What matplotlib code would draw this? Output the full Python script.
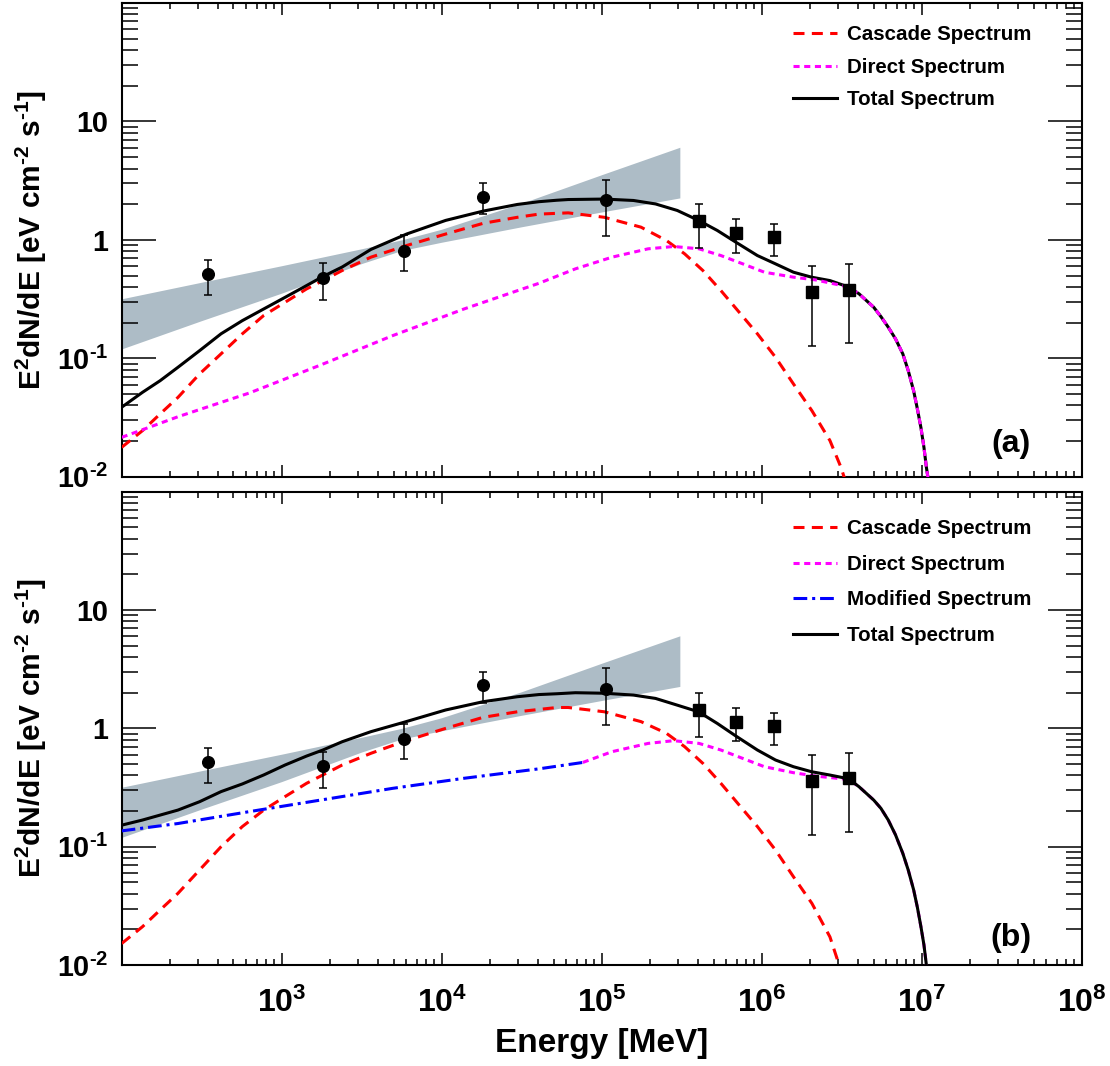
import math
import matplotlib
matplotlib.use("Agg")
import matplotlib.pyplot as plt
from matplotlib.ticker import LogLocator, FuncFormatter, NullFormatter

plt.rcParams["font.family"] = ["Liberation Sans", "DejaVu Sans"]
plt.rcParams["font.weight"] = "bold"
plt.rcParams["mathtext.fontset"] = "custom"
plt.rcParams["mathtext.rm"] = "Liberation Sans:bold"
plt.rcParams["mathtext.bf"] = "Liberation Sans:bold"
plt.rcParams["mathtext.it"] = "Liberation Sans:bold:italic"
plt.rcParams["mathtext.default"] = "bf"

HY = "\u2010"  # short hyphen for exponents, like the original

# measured points (circles: GeV data, squares: TeV data)
lat_E = [345, 1820, 5840, 18200, 106000]
lat_F = [0.516, 0.478, 0.812, 2.32, 2.15]
lat_hi = [0.677, 0.634, 1.09, 3.0, 3.23]
lat_lo = [0.345, 0.311, 0.55, 1.64, 1.07]

tev_E = [403000, 690000, 1.19e6, 2.05e6, 3.49e6]
tev_F = [1.44, 1.14, 1.05, 0.361, 0.377]
tev_hi = [2.0, 1.50, 1.36, 0.60, 0.62]
tev_lo = [0.85, 0.78, 0.73, 0.126, 0.134]

# butterfly band
band_E = [100, 316, 1000, 3160, 5620, 10000, 31600, 100000, 308000]
band_lo = [0.120, 0.208, 0.355, 0.631, 0.813, 0.955, 1.29, 1.72, 2.26]
band_hi = [0.318, 0.439, 0.605, 0.841, 1.0, 1.23, 2.04, 3.55, 6.05]

# panel (a) model curves
a_tot_E = [100, 135, 174, 225, 307, 418, 568, 773, 1050, 1430, 1810, 2390, 3610,
           6040, 10600, 18200, 29700, 40600, 52400, 61800, 104000, 158000, 217000,
           297000, 403000, 528000, 690000, 940000, 1.22e6, 1.58e6, 2.05e6, 2.67e6,
           3.49e6, 4.06e6, 5.01e6, 5.56e6, 6.18e6, 6.86e6, 7.62e6, 8.24e6, 8.91e6,
           9.40e6, 9.89e6, 1.033e7, 1.07e7, 1.12e7]
a_tot_F = [0.0386, 0.0516, 0.0647, 0.084, 0.116, 0.161, 0.208, 0.261, 0.327, 0.411,
           0.49, 0.59, 0.83, 1.12, 1.46, 1.75, 1.99, 2.10, 2.16, 2.19, 2.21, 2.15,
           2.01, 1.77, 1.46, 1.20, 0.955, 0.737, 0.627, 0.533, 0.484, 0.453, 0.40,
           0.350, 0.270, 0.225, 0.183, 0.146, 0.109, 0.0787, 0.053,
           0.0373, 0.026, 0.0177, 0.012, 0.008]

a_cas_E = [100, 135, 174, 225, 307, 418, 568, 773, 1050, 1430, 1810, 2390, 3610,
           6040, 10600, 18200, 29700, 40600, 61800, 104000, 176000, 254000, 330000,
           429000, 556000, 723000, 940000, 1.22e6, 1.58e6, 2.06e6, 2.67e6, 3.13e6, 3.40e6]
a_cas_F = [0.0177, 0.0245, 0.0339, 0.0468, 0.0738, 0.109, 0.161, 0.230, 0.297, 0.385,
           0.453, 0.551, 0.714, 0.896, 1.12, 1.38, 1.55, 1.65, 1.69, 1.55, 1.28, 0.987,
           0.762, 0.551, 0.373, 0.245, 0.161, 0.102, 0.0607, 0.0361, 0.0202, 0.0120, 0.0085]

a_dir_E = [100, 225, 630, 1760, 4920, 13700, 40600, 68500, 116000, 195000, 282000,
           406000, 556000, 762000, 1.04e6, 1.58e6, 2.17e6, 3.49e6, 4.06e6, 5.01e6,
           5.56e6, 6.18e6, 6.86e6, 7.62e6, 8.24e6, 8.91e6, 9.40e6, 9.89e6, 1.033e7,
           1.07e7, 1.12e7]
a_dir_F = [0.0215, 0.0321, 0.051, 0.088, 0.155, 0.26, 0.43, 0.569, 0.714, 0.840,
           0.879, 0.840, 0.737, 0.627, 0.533, 0.484, 0.459, 0.40, 0.350, 0.270,
           0.225, 0.183, 0.146, 0.109, 0.0787, 0.053, 0.0373, 0.026, 0.0177,
           0.012, 0.008]

# panel (b) model curves
b_tot_E = [100, 135, 174, 225, 307, 418, 568, 773, 1050, 1430, 1810, 2390, 3610,
           5740, 10600, 18200, 29700, 40600, 52400, 68500, 104000, 158000, 217000,
           297000, 403000, 528000, 690000, 940000, 1.22e6, 1.58e6, 2.05e6, 2.67e6,
           3.49e6, 4.06e6, 5.01e6, 5.56e6, 6.18e6, 6.86e6, 7.62e6, 8.24e6, 8.91e6,
           9.40e6, 9.89e6, 1.033e7, 1.07e7, 1.12e7]
b_tot_F = [0.152, 0.168, 0.185, 0.204, 0.240, 0.292, 0.339, 0.404, 0.490, 0.583,
           0.656, 0.771, 0.937, 1.12, 1.43, 1.68, 1.85, 1.93, 1.96, 2.0, 1.98, 1.91,
           1.79, 1.57, 1.38, 1.10, 0.861, 0.656, 0.540, 0.474, 0.430, 0.403, 0.375,
           0.321, 0.248, 0.211, 0.168, 0.126, 0.0879, 0.0635, 0.0431,
           0.0307, 0.0211, 0.0148, 0.010, 0.007]

b_cas_E = [100, 135, 174, 225, 307, 418, 568, 773, 1050, 1430, 1810, 2390, 3610,
           5740, 10600, 18200, 29700, 52400, 61800, 104000, 176000, 254000, 330000,
           429000, 556000, 723000, 940000, 1.22e6, 1.58e6, 2.06e6, 2.67e6, 3.05e6, 3.2e6]
b_cas_F = [0.0152, 0.0211, 0.0292, 0.0404, 0.0636, 0.1, 0.148, 0.204, 0.265, 0.343,
           0.404, 0.490, 0.615, 0.771, 1.0, 1.24, 1.38, 1.50, 1.50, 1.38, 1.14, 0.908,
           0.70, 0.506, 0.343, 0.225, 0.148, 0.0937, 0.0557, 0.0332, 0.0173, 0.010, 0.008]

b_mod_E = [100, 225, 630, 1760, 4920, 13700, 40600, 76200]
b_mod_F = [0.136, 0.157, 0.198, 0.248, 0.311, 0.378, 0.455, 0.515]

b_dir_E = [76200, 116000, 195000, 282000, 406000, 556000, 762000, 1.04e6, 1.58e6,
           2.17e6, 3.49e6, 4.06e6, 5.01e6, 5.56e6, 6.18e6, 6.86e6, 7.62e6, 8.24e6,
           8.91e6, 9.40e6, 9.89e6, 1.033e7, 1.07e7, 1.12e7]
b_dir_F = [0.515, 0.635, 0.746, 0.787, 0.746, 0.656, 0.557, 0.474, 0.422, 0.395, 0.37,
           0.321, 0.248, 0.211, 0.168, 0.126, 0.0879, 0.0635, 0.0431, 0.0307,
           0.0211, 0.0148, 0.010, 0.007]

x_tick_vals = [1e3, 1e4, 1e5, 1e6, 1e7, 1e8]
y_tick_text = {10.0: "10", 1.0: "1", 0.1: "$10^{%s1}$" % HY, 0.01: "$10^{%s2}$" % HY}

LW = 2.2
CASC = dict(color="#ff0000", lw=LW, dashes=(3.6, 2.4), label="Cascade Spectrum")
DIRECT = dict(color="#ff00ff", lw=LW, dashes=(2.0, 1.5), label="Direct Spectrum")
MODIF = dict(color="#0000ff", lw=LW, dashes=(4.5, 1.6, 1.0, 1.6), label="Modified Spectrum")
TOTAL = dict(color="black", lw=LW, label="Total Spectrum")


def y_fmt(v, pos):
    for k, s in y_tick_text.items():
        if abs(v - k) < 1e-3 * k:
            return s
    return ""


def x_fmt(v, pos):
    for k in x_tick_vals:
        if abs(v - k) < 1e-3 * k:
            return "$10^{%d}$" % round(math.log10(k))
    return ""


def style_axes(ax, show_x):
    ax.set_xscale("log")
    ax.set_yscale("log")
    ax.set_xlim(100, 1e8)
    ax.set_ylim(0.01, 100)
    ax.xaxis.set_major_locator(LogLocator(base=10, numticks=20))
    ax.xaxis.set_minor_locator(LogLocator(base=10, subs=range(2, 10), numticks=20))
    ax.yaxis.set_major_locator(LogLocator(base=10, numticks=20))
    ax.yaxis.set_minor_locator(LogLocator(base=10, subs=range(2, 10), numticks=20))
    ax.yaxis.set_major_formatter(FuncFormatter(y_fmt))
    ax.yaxis.set_minor_formatter(NullFormatter())
    ax.xaxis.set_minor_formatter(NullFormatter())
    if show_x:
        ax.xaxis.set_major_formatter(FuncFormatter(x_fmt))
    else:
        ax.xaxis.set_major_formatter(NullFormatter())
    ax.tick_params(which="both", direction="in", top=True, right=True, width=1.1)
    ax.tick_params(axis="x", which="major", length=8.6, pad=16, labelsize=23)
    ax.tick_params(axis="x", which="minor", length=4.3)
    ax.tick_params(axis="y", which="major", length=24.5, pad=9.5, labelsize=20.7)
    ax.tick_params(axis="y", which="minor", length=11.5)
    for sp in ax.spines.values():
        sp.set_linewidth(1.5)
    ax.set_ylabel("E$^{2}$dN/dE [eV cm$^{%s2}$ s$^{%s1}$]" % (HY, HY),
                  fontsize=21.5, fontweight="bold")
    ax.yaxis.set_label_coords(-0.076, 0.5)


def draw_data(ax):
    ax.fill_between(band_E, band_lo, band_hi, color="#adbcc6", lw=0, zorder=1)
    ax.errorbar(lat_E, lat_F,
                yerr=[[f - l for f, l in zip(lat_F, lat_lo)], [h - f for f, h in zip(lat_F, lat_hi)]],
                fmt="o", color="black", ms=8.4, elinewidth=1.1, capsize=2.6, capthick=1.1, zorder=6)
    ax.errorbar(tev_E, tev_F,
                yerr=[[f - l for f, l in zip(tev_F, tev_lo)], [h - f for f, h in zip(tev_F, tev_hi)]],
                fmt="s", color="black", ms=8.4, elinewidth=1.1, capsize=2.6, capthick=1.1, zorder=6)


fig = plt.figure(figsize=(11.1, 10.66), dpi=100)
ax1 = fig.add_axes([0.1096, 0.5528, 0.8649, 0.4444])
ax2 = fig.add_axes([0.1096, 0.0947, 0.8649, 0.4441])

# panel (a)
style_axes(ax1, False)
draw_data(ax1)
l_cas, = ax1.plot(a_cas_E, a_cas_F, zorder=3, **CASC)
l_tot, = ax1.plot(a_tot_E, a_tot_F, zorder=4, **TOTAL)
l_dir, = ax1.plot(a_dir_E, a_dir_F, zorder=5, **DIRECT)
ax1.legend([l_cas, l_dir, l_tot], [CASC["label"], DIRECT["label"], TOTAL["label"]],
           loc="upper left", bbox_to_anchor=(0.699, 0.953), frameon=False,
           prop={"size": 14.8, "weight": "bold"}, handlelength=2.15, handletextpad=0.5,
           labelspacing=0.66, borderpad=0, borderaxespad=0)
ax1.text(0.926, 0.07, "(a)", transform=ax1.transAxes, fontsize=23,
         fontweight="bold", ha="center", va="center")

# panel (b)
style_axes(ax2, True)
draw_data(ax2)
m_cas, = ax2.plot(b_cas_E, b_cas_F, zorder=3, **CASC)
m_mod, = ax2.plot(b_mod_E, b_mod_F, zorder=3, **MODIF)
m_dir, = ax2.plot(b_dir_E, b_dir_F, zorder=4, **DIRECT)
m_tot, = ax2.plot(b_tot_E, b_tot_F, zorder=5, **TOTAL)
ax2.legend([m_cas, m_dir, m_mod, m_tot],
           [CASC["label"], DIRECT["label"], MODIF["label"], TOTAL["label"]],
           loc="upper left", bbox_to_anchor=(0.699, 0.942), frameon=False,
           prop={"size": 14.8, "weight": "bold"}, handlelength=2.15, handletextpad=0.5,
           labelspacing=0.81, borderpad=0, borderaxespad=0)
ax2.text(0.926, 0.057, "(b)", transform=ax2.transAxes, fontsize=23,
         fontweight="bold", ha="center", va="center")
ax2.set_xlabel("Energy [MeV]", fontsize=24, fontweight="bold")
ax2.xaxis.set_label_coords(0.5, -0.133)

fig.savefig("out.png", dpi=100)
plt.close(fig)
